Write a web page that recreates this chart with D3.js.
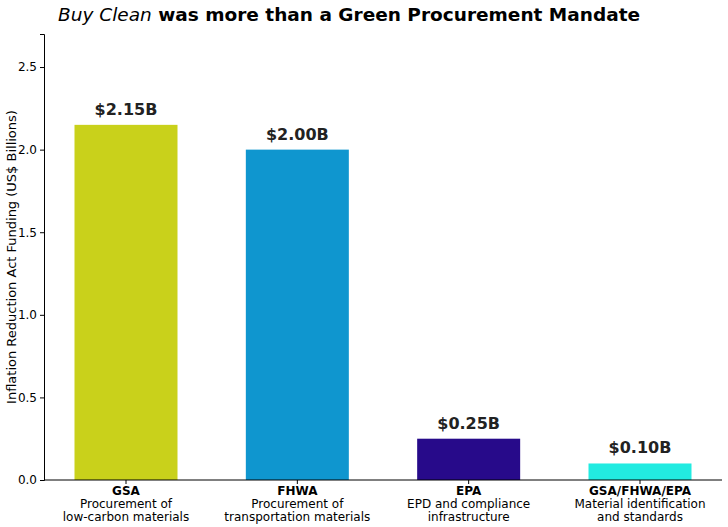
<!DOCTYPE html>
<html><head><meta charset="utf-8">
<script src="https://cdn.jsdelivr.net/npm/d3@7"></script>
<style>body{margin:0;background:#fff;font-family:"DejaVu Sans",sans-serif}</style>
</head><body><div id="chart"></div>
<script>
var agencies=["GSA","FHWA","EPA","GSA/FHWA/EPA"];
var line1=["Procurement of","Procurement of","EPD and compliance","Material identification"];
var line2=["low-carbon materials","transportation materials","infrastructure","and standards"];
var values=[2.15,2.00,0.25,0.10];
var labels=["$2.15B","$2.00B","$0.25B","$0.10B"];
var colors=["#c9d11b","#0f96cf","#270a8a","#22ebe1"];
var yTicks=[0,0.5,1.0,1.5,2.0,2.5];

var W=728,H=527,L=44,R=722,T=34,B=480;
var svg=d3.select("#chart").append("svg").attr("width",W).attr("height",H);
var y=d3.scaleLinear().domain([0,2.7]).range([B,T]);
var x=d3.scaleLinear().domain([0,3]).range([126,640]);
var bw=103;

svg.selectAll("rect").data(values).enter().append("rect")
  .attr("x",function(d,i){return x(i)-bw/2;}).attr("width",bw)
  .attr("y",function(d){return y(d);}).attr("height",function(d){return B-y(d);})
  .attr("fill",function(d,i){return colors[i];});

svg.selectAll(".vl").data(values).enter().append("text")
  .attr("x",function(d,i){return x(i);}).attr("y",function(d){return y(d)-10;})
  .attr("text-anchor","middle").attr("font-weight","bold").attr("font-size",16).attr("fill","#222")
  .text(function(d,i){return labels[i];});

var ya=svg.append("g").attr("transform","translate("+L+",0)")
  .call(d3.axisLeft(y).tickValues(yTicks).tickFormat(d3.format(".1f")).tickSize(4));
ya.selectAll("text").attr("font-size",12).attr("font-family","DejaVu Sans").attr("fill","#000");
svg.append("line").attr("x1",L).attr("x2",R).attr("y1",B).attr("y2",B).attr("stroke","#000");
svg.selectAll(".xt").data(values).enter().append("line")
  .attr("x1",function(d,i){return x(i);}).attr("x2",function(d,i){return x(i);})
  .attr("y1",B).attr("y2",B+4).attr("stroke","#000");

var g=svg.selectAll(".xl").data(agencies).enter().append("text")
  .attr("text-anchor","middle").attr("font-size",12).attr("fill","#000");
g.append("tspan").attr("x",function(d,i){return x(i);}).attr("y",495).attr("font-weight","bold").text(function(d){return d;});
g.append("tspan").attr("x",function(d,i){return x(i);}).attr("y",508).text(function(d,i){return line1[i];});
g.append("tspan").attr("x",function(d,i){return x(i);}).attr("y",521).text(function(d,i){return line2[i];});

svg.append("text").attr("transform","translate(16,"+((T+B)/2)+") rotate(-90)")
  .attr("text-anchor","middle").attr("font-size",13).text("Inflation Reduction Act Funding (US$ Billions)");

var t=svg.append("text").attr("x",58).attr("y",21).attr("font-size",18.5);
t.append("tspan").attr("font-style","italic").text("Buy Clean");
t.append("tspan").attr("font-weight","bold").text(" was more than a Green Procurement Mandate");
</script></body></html>
